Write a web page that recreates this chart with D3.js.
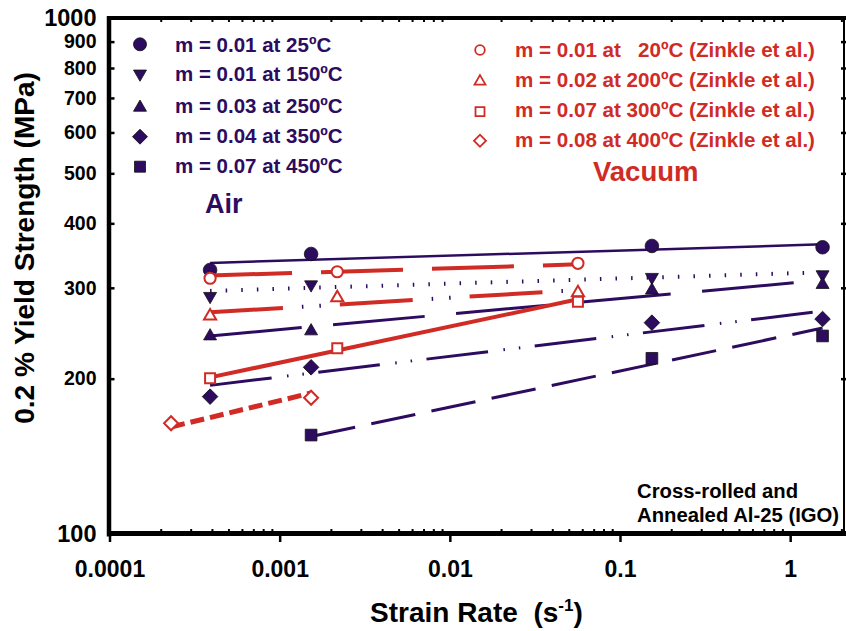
<!DOCTYPE html>
<html><head><meta charset="utf-8">
<script src="https://cdn.jsdelivr.net/npm/d3@7"></script>
<style>
html,body{margin:0;padding:0;background:#fff;}
svg{display:block;font-family:"Liberation Sans",Arial,Helvetica,sans-serif;font-weight:bold;}
text{white-space:pre;}
</style></head><body>
<svg id="chart" width="846" height="631"></svg>
<script>
// ---- strain rates (1/s) ----
const rateAir = [0.00039, 0.00153, 0.154, 1.55];
const rateAir450 = [0.00153, 0.154, 1.55];
const rateVac = [0.00039, 0.00218, 0.0566];
const rateVac400 = [0.00023, 0.00153];

// ---- 0.2 % yield strength (MPa), tested in air ----
const air25 = [324.9, 348.9, 361.6, 359.5];
const air150 = [289.0, 304.3, 314.6, 318.3];
const air250 = [241.8, 247.3, 296.6, 304.2];
const air350 = [184.6, 210.4, 256.8, 261.0];
const air450 = [155.5, 219.0, 242.0];

// ---- 0.2 % yield strength (MPa), tested in vacuum (Zinkle et al.) ----
const vac20 = [313.1, 322.3, 334.7];
const vac200 = [264.4, 286.9, 293.4];
const vac300 = [200.3, 229.1, 281.9];
const vac400 = [163.9, 183.7];

// ---- strain-rate sensitivity m and fitted strength at the middle of each fit ----
const airTemps = ["25", "150", "250", "350", "450"];
const airSlope = [0.01, 0.01, 0.03, 0.04, 0.07];
const airFitMid = [349.4, 308.4, 274.1, 229.1, 196.8];
const vacTemps = ["  20", "200", "300", "400"];
const vacSlope = [0.01, 0.02, 0.07, 0.08];
const vacFitMid = [324.9, 282.6, 239.4, 173.9];

// ---- axis ticks ----
const xTicks = [0.0001, 0.001, 0.01, 0.1, 1];
const xTickLabels = ["0.0001", "0.001", "0.01", "0.1", "1"];
const yTicks = [100, 200, 300, 400, 500, 600, 700, 800, 900, 1000];

const DARK = "#2d0b5f";
const RED = "#d02b25";

const svg = d3.select("#chart");
const x = d3.scaleLog().domain([1e-4, 2.1]).range([109.5, 845]);
const y = d3.scaleLog().domain([100, 1000]).range([534, 18]);

const [xL, xR] = x.range();
const [yB, yT] = y.range();

// ---- series ----
const airSeries = [
  {rates: rateAir, values: air25, m: airSlope[0], mid: airFitMid[0], temp: airTemps[0], sym: "circle", dash: null, w: 2.5},
  {rates: rateAir, values: air150, m: airSlope[1], mid: airFitMid[1], temp: airTemps[1], sym: "triDown", dash: "1.5,14.1", w: 4},
  {rates: rateAir, values: air250, m: airSlope[2], mid: airFitMid[2], temp: airTemps[2], sym: "triUp", dash: "92,31.5", w: 3},
  {rates: rateAir, values: air350, m: airSlope[3], mid: airFitMid[3], temp: airTemps[3], sym: "diamond", dash: "62,15.5,1.5,14,1.5,14.5", w: 3},
  {rates: rateAir450, values: air450, m: airSlope[4], mid: airFitMid[4], temp: airTemps[4], sym: "square", dash: "45,16.5", w: 3}
];
const vacSeries = [
  {rates: rateVac, values: vac20, m: vacSlope[0], mid: vacFitMid[0], temp: vacTemps[0], sym: "circle", dash: "82,29", w: 4},
  {rates: rateVac, values: vac200, m: vacSlope[1], mid: vacFitMid[1], temp: vacTemps[1], sym: "triUp", dash: "73,57", dots: "0,92,1.5,16,1.5,19", w: 4},
  {rates: rateVac, values: vac300, m: vacSlope[2], mid: vacFitMid[2], temp: vacTemps[2], sym: "square", dash: null, w: 4},
  {rates: rateVac400, values: vac400, m: vacSlope[3], mid: vacFitMid[3], temp: vacTemps[3], sym: "diamond", dash: "14,6", w: 5}
];

// power-law fit  sigma = A * rate^m, anchored at the log-middle of the rate range
function fitLine(s) {
  const x0 = s.rates[0], x1 = s.rates[s.rates.length - 1];
  const xm = Math.sqrt(x0 * x1);
  const f = r => s.mid * Math.pow(r / xm, s.m);
  return [[x0, f(x0)], [x1, f(x1)]];
}
const line = d3.line().x(d => x(d[0])).y(d => y(d[1]));

// marker shapes
function symbolPath(type, size) {
  const t = {circle: d3.symbolCircle, triDown: d3.symbolTriangle, triUp: d3.symbolTriangle,
             diamond: d3.symbolSquare, square: d3.symbolSquare}[type];
  return d3.symbol().type(t).size(size)();
}
function symbolRotate(type) {
  return type === "triDown" ? 180 : type === "diamond" ? 45 : 0;
}
const airSizes = {circle: Math.PI * 6.8 * 6.8, triDown: 73, triUp: 73, diamond: 121, square: 137};
const vacSizes = {circle: Math.PI * 5.6 * 5.6, triUp: 64, square: 100, diamond: 98};

function drawMarkers(g, s, sizes, filled) {
  g.selectAll(null).data(s.rates.map((r, i) => [r, s.values[i]])).join("path")
    .attr("d", symbolPath(s.sym, sizes[s.sym]))
    .attr("transform", d => `translate(${x(d[0])},${y(d[1])}) rotate(${symbolRotate(s.sym)})`)
    .attr("fill", filled ? DARK : "#fff")
    .attr("stroke", filled ? "#111" : RED)
    .attr("stroke-width", filled ? 0.8 : 2);
}

// ---- plot frame and ticks ----
const axes = svg.append("g");

// inner minor ticks on the bottom and top edges
const minorX = [];
for (let e = -4; e <= 0; e++) for (let k = 2; k <= 9; k++) {
  const v = k * Math.pow(10, e);
  if (v < 2.1) minorX.push(v);
}
axes.append("g").attr("transform", `translate(0,${yB})`)
  .call(d3.axisBottom(x).tickValues(minorX).tickSize(-5).tickFormat(""))
  .call(g => g.select(".domain").remove())
  .call(g => g.selectAll("line").attr("stroke", "#000").attr("stroke-width", 2));
axes.append("g").attr("transform", `translate(0,${yT})`)
  .call(d3.axisTop(x).tickValues(minorX).tickSize(-4).tickFormat(""))
  .call(g => g.select(".domain").remove())
  .call(g => g.selectAll("line").attr("stroke", "#000").attr("stroke-width", 2));

// major x ticks with labels
axes.append("g").attr("transform", `translate(0,${yB})`)
  .call(d3.axisBottom(x).tickValues(xTicks).tickSize(8).tickPadding(19)
        .tickFormat((d, i) => xTickLabels[i]))
  .call(g => g.select(".domain").remove())
  .call(g => g.selectAll("line").attr("stroke", "#000").attr("stroke-width", 2.5))
  .call(g => g.selectAll("text").attr("fill", "#000").attr("font-size", 23)
        .attr("font-family", "Liberation Sans, Arial, sans-serif").attr("font-weight", "bold"));

// y ticks with labels (decades larger)
axes.append("g").attr("transform", `translate(${xL},0)`)
  .call(d3.axisLeft(y).tickValues(yTicks).tickSize(-5).tickPadding(13).tickFormat(d3.format("d")))
  .call(g => g.select(".domain").remove())
  .call(g => g.selectAll("line").attr("stroke", "#000").attr("stroke-width", 2.5))
  .call(g => g.selectAll("text").attr("fill", "#000")
        .attr("font-size", d => (d === 100 || d === 1000) ? 23.5 : 19.5)
        .attr("font-family", "Liberation Sans, Arial, sans-serif").attr("font-weight", "bold"));

// right edge ticks
axes.append("g").attr("transform", `translate(${xR - 1},0)`)
  .call(d3.axisRight(y).tickValues(yTicks.slice(1, -1)).tickSize(3).tickFormat(""))
  .call(g => g.select(".domain").remove())
  .call(g => g.selectAll("line").attr("stroke", "#000").attr("stroke-width", 2.5).attr("x1", -3));

// frame
axes.append("line").attr("x1", xL - 0.5).attr("x2", xL - 0.5).attr("y1", yT - 2).attr("y2", yB + 2.5)
  .attr("stroke", "#000").attr("stroke-width", 4.5);
axes.append("line").attr("x1", xL - 2.5).attr("x2", 846).attr("y1", yB - 0.5).attr("y2", yB - 0.5)
  .attr("stroke", "#000").attr("stroke-width", 5);
axes.append("line").attr("x1", xL - 2.5).attr("x2", 846).attr("y1", yT).attr("y2", yT)
  .attr("stroke", "#000").attr("stroke-width", 4);
axes.append("line").attr("x1", xR - 1).attr("x2", xR - 1).attr("y1", yT).attr("y2", yB)
  .attr("stroke", "#000").attr("stroke-width", 2);

// ---- fitted lines and data markers ----
const plot = svg.append("g");
airSeries.forEach(s => {
  plot.append("path").attr("d", line(fitLine(s))).attr("fill", "none")
    .attr("stroke", DARK).attr("stroke-width", s.w)
    .attr("stroke-dasharray", s.dash);
});
airSeries.forEach(s => drawMarkers(plot.append("g"), s, airSizes, true));

vacSeries.forEach(s => {
  plot.append("path").attr("d", line(fitLine(s))).attr("fill", "none")
    .attr("stroke", RED).attr("stroke-width", s.w)
    .attr("stroke-dasharray", s.dash);
  if (s.dots) {
    plot.append("path").attr("d", line(fitLine(s))).attr("fill", "none")
      .attr("stroke", DARK).attr("stroke-width", 4)
      .attr("stroke-dasharray", s.dots);
  }
});
vacSeries.forEach(s => drawMarkers(plot.append("g"), s, vacSizes, false));

// ---- legends ----
const legAir = svg.append("g");
const legAirRows = [[44.3, 52.3], [73.8, 80.7], [107.5, 113.3], [136.7, 143.3], [166.7, 173.3]];
const legAirSizes = {circle: Math.PI * 6.5 * 6.5, triDown: 73, triUp: 73, diamond: 112, square: 121};
airSeries.forEach((s, i) => {
  legAir.append("path").attr("d", symbolPath(s.sym, legAirSizes[s.sym]))
    .attr("transform", `translate(140,${legAirRows[i][0]}) rotate(${symbolRotate(s.sym)})`)
    .attr("fill", DARK).attr("stroke", "#111").attr("stroke-width", 0.8);
  legAir.append("text").attr("x", 175).attr("y", legAirRows[i][1])
    .attr("font-size", 20.5).attr("fill", DARK)
    .text(`m = ${s.m.toFixed(2)} at ${s.temp}ºC`);
});

const legVac = svg.append("g");
const legVacRows = [[50, 56.5], [81.5, 86.5], [111.7, 116.5], [140.8, 146.5]];
const legVacSizes = {circle: Math.PI * 4.8 * 4.8, triUp: 52, square: 81, diamond: 72};
vacSeries.forEach((s, i) => {
  legVac.append("path").attr("d", symbolPath(s.sym, legVacSizes[s.sym]))
    .attr("transform", `translate(480,${legVacRows[i][0]}) rotate(${symbolRotate(s.sym)})`)
    .attr("fill", "#fff").attr("stroke", RED).attr("stroke-width", 1.8);
  legVac.append("text").attr("x", 515).attr("y", legVacRows[i][1])
    .attr("font-size", 20.6).attr("fill", RED)
    .text(`m = ${s.m.toFixed(2)} at ${s.temp}ºC (Zinkle et al.)`);
});

svg.append("text").attr("x", 205).attr("y", 213).attr("font-size", 27).attr("fill", DARK).text("Air");
svg.append("text").attr("x", 593).attr("y", 181).attr("font-size", 27.5).attr("fill", RED).text("Vacuum");

// specimen note
const note = svg.append("text").attr("x", 637).attr("font-size", 20.3).attr("fill", "#000");
note.append("tspan").attr("x", 637).attr("y", 498).text("Cross-rolled and");
note.append("tspan").attr("x", 637).attr("y", 521.5).text("Annealed Al-25 (IGO)");

// ---- axis titles ----
svg.append("text").attr("transform", "translate(34,248) rotate(-90)")
  .attr("text-anchor", "middle").attr("font-size", 28).attr("fill", "#000")
  .text("0.2 % Yield Strength (MPa)");

const xt = svg.append("text").attr("x", 370).attr("y", 622).attr("font-size", 28).attr("fill", "#000");
xt.append("tspan").text("Strain Rate  (s");
xt.append("tspan").attr("font-size", 17).attr("dy", -11).text("-1");
xt.append("tspan").attr("dy", 11).text(")");
</script>
</body></html>
